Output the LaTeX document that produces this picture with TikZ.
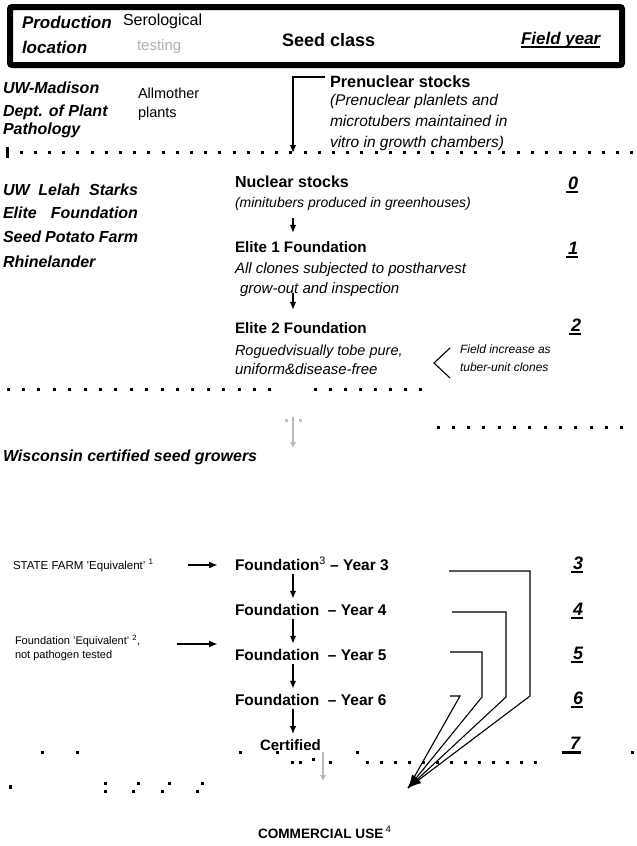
\documentclass[tikz,border=0pt]{standalone}
\usepackage{fontspec}
\setmainfont{Liberation Sans}
\usetikzlibrary{arrows.meta}
\newcommand\fsz[1]{\fontsize{#1}{#1}\selectfont}
\begin{document}
\begin{tikzpicture}[x=1pt,y=-1pt,
 every node/.style={inner sep=0pt,outer sep=0pt,anchor=base west},
 bi/.style={font=\fsz{#1}\bfseries\itshape},
 bd/.style={font=\fsz{#1}\bfseries},
 it/.style={font=\fsz{#1}\itshape},
 rg/.style={font=\fsz{#1}},
 num/.style={font=\fsz{18}\bfseries\itshape,anchor=base},
 arr/.style={line width=1.5pt,-{Latex[length=8pt,width=6.5pt]}},
 va/.style={arr,shorten <=4pt,shorten >=5pt},
 harr/.style={line width=1.8pt,-{Latex[length=9pt,width=7pt]}},
 garr/.style={line width=2.2pt,gray!55,-{Latex[length=6pt,width=6.5pt]}},
 rline/.style={line width=1.1pt},
 uline/.style={line width=2.2pt}
]
\useasboundingbox (0,0) rectangle (637,846);
\fill[white] (0,0) rectangle (637,846);

% header
\draw[line width=6pt,rounded corners=2pt] (10,7) rectangle (622,65);
\node[bi=17] (prod) at (22,28) {Production};
\node[bi=17] (loc) at (22,53) {location};
\node[rg=16] (sero) at (123,25) {Serological};
\node[rg=15,text=gray!60] (test) at (137,50) {testing};
\node[bd=18] (seed) at (282,46) {Seed class};
\node[bi=17] (fy) at (521,44) {Field year};
\draw[line width=1.5pt] ([yshift=-3pt]fy.base west) -- ([yshift=-3pt]fy.base east);

% UW-Madison block
\node[bi=16] (uw1) at (3,93) {UW-Madison};
\node[bi=16] (uw2) at (3,116) {Dept. of Plant};
\node[bi=16] (uw3) at (3,134) {Pathology};
\node[rg=14.5] (am1) at (138,98) {Allmother};
\node[rg=14.5] (am2) at (138,117) {plants};
\node[bd=16.3] (pre) at (330,87) {Prenuclear stocks};
\node[it=15.5] (pre1) at (330,105) {(Prenuclear planlets and};
\node[it=15.5] (pre2) at (330,126) {microtubers maintained in};
\node[it=15.5] (pre3) at (330,147) {vitro in growth chambers)};
\coordinate (preend) at (293,153);
\draw[arr] ([xshift=-5pt,yshift=10pt]pre.base west) -| (preend);

% dotted line 1
\fill (5.5,147) rectangle (8.5,158);
\foreach \x in {21,35.2,...,632} \fill (\x-1.5,150.5) rectangle ++(3,3);

% Starks block
\node[bi=16] (le1) at (3,195) {\makebox[135pt][s]{UW Lelah Starks}};
\node[bi=16] (le2) at (3,218) {\makebox[135pt][s]{Elite Foundation}};
\node[bi=16] (le3) at (3,242) {\makebox[135pt][s]{Seed Potato Farm}};
\node[bi=16] (le4) at (3,267) {Rhinelander};
\coordinate (axis) at (293,0);
\node[bd=16] (nuc) at (235,187) {Nuclear stocks};
\node[it=14] (nuci) at (235,207) {(minitubers produced in greenhouses)};
\node[bd=15.2] (e1) at (235,252) {Elite 1 Foundation};
\node[it=15] (e1a) at (235,273) {All clones subjected to postharvest};
\node[it=15] (e1b) at (240,293) {grow-out and inspection};
\node[bd=15.2] (e2) at (235,333) {Elite 2 Foundation};
\node[it=14.5] (e2a) at (235,355) {Roguedvisually tobe pure,};
\node[it=15] (e2b) at (235,374) {uniform\&disease-free};
\draw[arr,shorten <=8pt,shorten >=8pt] (nuci.south -| axis) -- (e1.north -| axis);
\draw[arr,shorten <=0pt,shorten >=12pt] (e1b.base -| axis) -- (e2.north -| axis);
\coordinate (lt1) at (450,348);
\coordinate (lt2) at (434,363);
\coordinate (lt3) at (450,378);
\draw[rline] (lt1) -- (lt2) -- (lt3);
\node[it=12] (fi1) at (460,353) {Field increase as};
\node[it=12] (fi2) at (460,371) {tuber-unit clones};

% dotted lines 2 and 3
\foreach \x in {8,23.4,...,271} \fill (\x-1.5,387.5) rectangle ++(3,3);
\foreach \x in {315,330,...,424} \fill (\x-1.5,387.5) rectangle ++(3,3);
\foreach \x in {438,453.3,...,623} \fill (\x-1.5,425.5) rectangle ++(3,3);

% grey arrow 1
\coordinate (g1a) at (293,417);
\coordinate (g1b) at (293,448);
\draw[garr] (g1a) -- (g1b);
\fill[gray!50] (285,419) rectangle ++(3,3);
\fill[gray!50] (299,419) rectangle ++(3,3);

\node[bi=16] (wis) at (3,461) {Wisconsin certified seed growers};

% field year numbers
\foreach \n/\x/\y in {0/573/189,1/573/254,2/576/331,3/578/569,4/578/615,5/578/659,6/578/704} {
  \node[num] (n\n) at (\x,\y) {\n};
  \draw[uline] ([xshift=-2pt,yshift=-3pt]n\n.base west) -- ([xshift=0pt,yshift=-3pt]n\n.base east);
}
\node[num] (n7) at (575,749) {7};
\draw[uline] ([xshift=-8pt,yshift=-3.5pt]n7.base west) -- ([xshift=1pt,yshift=-3.5pt]n7.base east);

% lower block
\node[rg=11.5] (sf) at (13,569) {STATE FARM 'Equivalent' \textsuperscript{1}};
\node[bd=15.5] (y3) at (235,570) {Foundation\textsuperscript{\mdseries 3} – Year 3};
\node[bd=15.5] (y4) at (235,615) {Foundation\ \ – Year 4};
\node[rg=11] (fe1) at (15,644) {Foundation 'Equivalent' \textsuperscript{2},};
\node[rg=11] (fe2) at (15,658) {not pathogen tested};
\node[bd=15.5] (y5) at (235,660) {Foundation\ \ – Year 5};
\node[bd=15.5] (y6) at (235,705) {Foundation\ \ – Year 6};
\node[bd=15] (cert) at (260,750) {Certified};
\node[bd=13.6] (com) at (258,838) {COMMERCIAL USE\,\textsuperscript{\mdseries 4}};

\coordinate (sa) at (188,565);
\coordinate (fa) at (177,644);
\draw[harr,shorten >=17pt] (sa) -- (sa -| y3.west);
\draw[harr,shorten >=17pt] (fa) -- (fa -| y5.west);
\draw[va] (y3.south -| axis) -- (y4.north -| axis);
\draw[va] (y4.south -| axis) -- (y5.north -| axis);
\draw[va] (y5.south -| axis) -- (y6.north -| axis);
\draw[va] (y6.south -| axis) -- (cert.north -| axis);

% converging lines
\coordinate (tip) at (408,788);
\coordinate (r3) at (449,571);
\coordinate (r4) at (452,612);
\coordinate (r5) at (450,652);
\coordinate (r6) at (450,696);
\draw[rline] (r3) -| (530,696) -- (tip);
\draw[rline,-{Latex[length=13pt,width=11pt]}] (r4) -| (506,697) -- (tip);
\draw[rline,-{Latex[length=13pt,width=11pt]}] (r5) -| (482,697) -- (tip);
\draw[rline] (r6) -- (460,696) -- (tip);

% scattered dots near the bottom
\foreach \x in {42,77,240,277,357,632} \fill (\x-1.5,750.5) rectangle ++(3,3);
\foreach \x in {292,300,330,367,381,...,536} \fill (\x-1.5,760.5) rectangle ++(3,3);
\fill (311.5,757.5) rectangle ++(3,3);
\fill (8.5,785) rectangle ++(3,4);
\foreach \x/\y in {105/783,105/791,133/791,138/783,162/791,169/783,197/791,202/783}
  \fill (\x-1.5,\y-1.5) rectangle ++(3,3);

% grey arrow 2
\coordinate (g2a) at (323,752);
\coordinate (g2b) at (323,781);
\draw[garr] (g2a) -- (g2b);
\end{tikzpicture}
\end{document}
